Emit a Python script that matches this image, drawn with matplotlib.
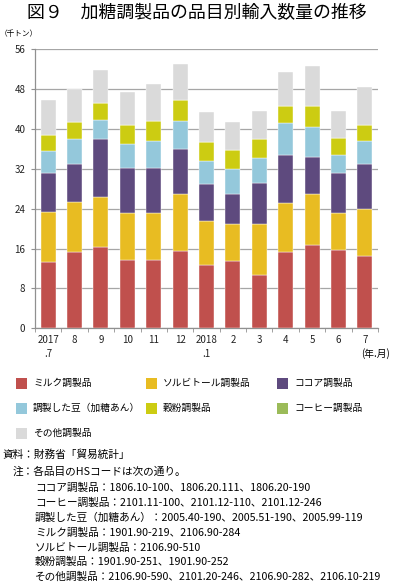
import matplotlib.pyplot as plt
from matplotlib.patches import Rectangle
import numpy as np

plt.rcParams['font.family'] = ['Noto Sans CJK JP', 'DejaVu Sans']

# Months (2017.7 - 2018.7)
months = ['2017\n.7', '8', '9', '10', '11', '12', '2018\n.1', '2', '3', '4', '5', '6', '7']

# Import volume by item (thousand tons), bottom to top
series_names = ['ミルク調製品', 'ソルビトール調製品', 'ココア調製品',
                '調製した豆（加糖あん）', '穀粉調製品', 'コーヒー調製品', 'その他調製品']
milk     = [13.4, 15.4, 16.3, 13.8, 13.7, 15.6, 12.8, 13.6, 10.7, 15.3, 16.7, 15.8, 14.6]
sorbitol = [10.0,  9.9, 10.1,  9.3,  9.5, 11.3,  8.7,  7.3, 10.2,  9.9, 10.3,  7.3,  9.4]
cocoa    = [ 7.8,  7.7, 11.5,  9.1,  9.0,  9.1,  7.5,  6.0,  8.3,  9.6,  7.4,  8.0,  8.9]
beans    = [ 4.3,  4.9,  4.0,  4.7,  5.4,  5.6,  4.6,  5.1,  4.9,  6.4,  6.1,  3.7,  4.6]
flour    = [ 3.2,  3.5,  3.3,  3.9,  4.0,  4.3,  3.7,  3.8,  3.8,  3.5,  4.2,  3.3,  3.3]
coffee   = [ 0.0,  0.0,  0.0,  0.0,  0.0,  0.0,  0.0,  0.0,  0.0,  0.0,  0.0,  0.0,  0.0]
other    = [ 7.1,  6.7,  6.6,  6.7,  7.4,  7.2,  6.2,  5.6,  5.8,  6.7,  7.9,  5.6,  7.6]

series = [milk, sorbitol, cocoa, beans, flour, coffee, other]
colors = ['#C0504D', '#E8BC22', '#5E4A7E', '#94C8DB', '#CCCC12', '#9BBB59', '#DADADA']

W, H = 393, 585
fig = plt.figure(figsize=(W / 100, H / 100), dpi=100)
ax = fig.add_axes([35 / W, 1 - 328.3 / H, (378 - 35) / W, (328.3 - 49.3) / H])

x = np.arange(len(months))
bottom = np.zeros(len(months))
for vals, c in zip(series, colors):
    ax.bar(x, vals, bottom=bottom, width=0.57, color=c, edgecolor='white', linewidth=0.3, zorder=3)
    bottom += np.array(vals)

ax.set_xlim(-0.5, len(months) - 0.5)
ax.set_ylim(0, 56)
ax.set_yticks(range(0, 57, 8))
ax.yaxis.grid(True, color='#A6A6A6', linewidth=0.9, zorder=0)
for s in ['top', 'right']:
    ax.spines[s].set_visible(False)
for s in ['left', 'bottom']:
    ax.spines[s].set_color('#909090')
    ax.spines[s].set_linewidth(0.9)

ax.set_xticks(x)
ax.set_xticklabels(months, fontsize=7, linespacing=1.45, color='#222222', va='top')
ax.tick_params(axis='x', which='major', length=0, pad=5)
ax.set_xticks(np.arange(-0.5, len(months)), minor=True)
ax.tick_params(axis='x', which='minor', length=3, color='#909090', direction='out')
ax.tick_params(axis='y', length=3, color='#909090', labelsize=7, labelcolor='#222222', pad=4)

fig.text(197 / W, 1 - 13 / H, '図９　加糖調製品の品目別輸入数量の推移', fontsize=12.9,
         ha='center', va='center')
fig.text(0, 1 - 34 / H, '（千トン）', fontsize=5.5, ha='left', va='center')
fig.text(390 / W, 1 - 354 / H, '(年.月)', fontsize=7, ha='right', va='center')

# legend
col_x = [16, 146, 277]
row_y = [383, 408, 433]
for i, (name, c) in enumerate(zip(series_names, colors)):
    r, k = divmod(i, 3)
    x0, y0 = col_x[k], row_y[r]
    fig.add_artist(Rectangle((x0 / W, 1 - (y0 + 5.5) / H), 11 / W, 11 / H,
                             transform=fig.transFigure, facecolor=c, edgecolor='none'))
    fig.text((x0 + 17) / W, 1 - y0 / H, name, fontsize=7, ha='left', va='center')

# notes
notes = [
    (2, 455, '資料：財務省「貿易統計」'),
    (13, 472, '注：各品目のHSコードは次の通り。'),
    (35, 488, 'ココア調製品：1806.10-100、1806.20.111、1806.20-190'),
    (35, 503, 'コーヒー調製品：2101.11-100、2101.12-110、2101.12-246'),
    (35, 518, '調製した豆（加糖あん）：2005.40-190、2005.51-190、2005.99-119'),
    (35, 533, 'ミルク調製品：1901.90-219、2106.90-284'),
    (35, 548, 'ソルビトール調製品：2106.90-510'),
    (35, 562, '穀粉調製品：1901.90-251、1901.90-252'),
    (35, 577, 'その他調製品：2106.90-590、2101.20-246、2106.90-282、2106.10-219'),
]
for nx_, ny_, t in notes:
    fig.text(nx_ / W, 1 - ny_ / H, t, fontsize=7.7, ha='left', va='center')

fig.savefig('out.png', dpi=100)
